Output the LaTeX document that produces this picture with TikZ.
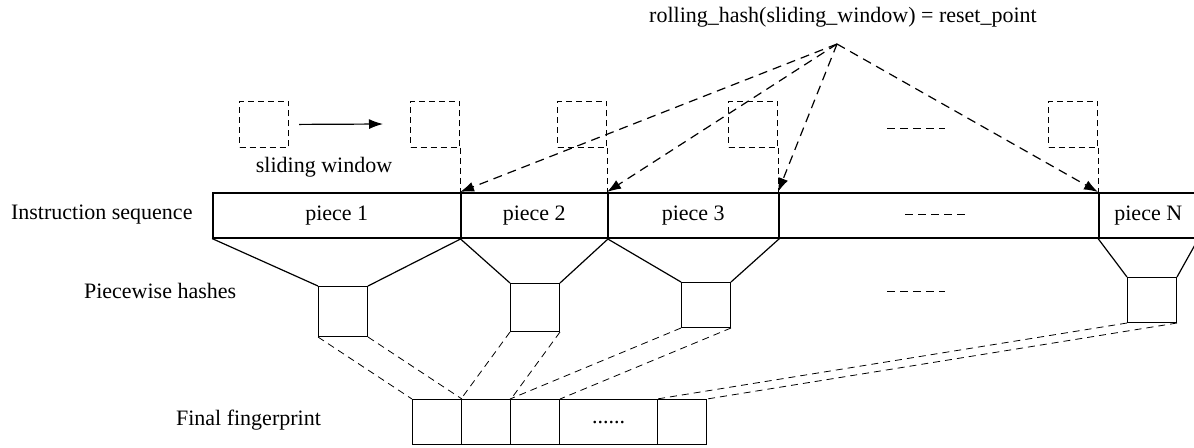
\documentclass[tikz,border=0pt]{standalone}
\usepackage{fontspec}
\setmainfont{Liberation Serif}
\usetikzlibrary{arrows.meta}
\newcommand{\cellfill}{......}

\begin{document}
\begin{tikzpicture}[x=0.5pt, y=-0.5pt, >={Latex[length=7pt,width=5pt]},
	font=\fontsize{11}{13}\selectfont]
\useasboundingbox (0,0) rectangle (1194,447);

% Row labels
\node[anchor=west] (Label-seq) at (4,215) {Instruction sequence};
\node[anchor=west] (Label-hash) at (77,291) {Piecewise hashes};
\node[anchor=west] (Label-final) at (169,420) {Final fingerprint};
\node (Rolling) at (843,17) {rolling\_hash(sliding\_window) = reset\_point};
\node (Label-window) at (324,167) {sliding window};

% Sliding windows
\foreach \x/\n in {289/1, 460/2, 607/3, 778/4, 1098/5}
{
	\node[draw, dash pattern=on 3pt off 2pt, minimum width=24.5pt,
		minimum height=23pt, inner sep=0pt, anchor=north east]
		(Win-\n) at (\x,101) {};
}
\coordinate (Slide-end) at (383,124);
\draw[->, line width=0.6pt] ([xshift=5pt]Win-1.east) -- (Slide-end);

% Instruction sequence
\foreach \l/\r/\n/\t in {212/460/1/piece 1, 460/607/2/piece 2, 607/778/3/piece 3,
	778/1098/dots/{}, 1098/1197/N/piece N}
{
	\node[draw, line width=0.75pt, minimum width={(\r-\l)*0.5pt},
		minimum height=22.5pt, inner sep=0pt, anchor=north west]
		(Piece-\n) at (\l,192) {\t};
}
\draw[dash pattern=on 4pt off 2.5pt] (905,214) -- (965,214);

% Piecewise hashes
\foreach \x/\y/\h/\n in {318/286/50/1, 510/283/48/2, 681/282/45/3, 1127/277/45/N}
{
	\node[draw, line width=0.5pt, minimum width=24.5pt,
		minimum height={\h*0.5pt}, inner sep=0pt, anchor=north west]
		(Hash-\n) at (\x,\y) {};
}
\draw[dash pattern=on 4pt off 2.5pt] (887,291) -- (945,291);
\draw[dash pattern=on 4pt off 2.5pt] (887,128) -- (945,128);

% Final fingerprint
\foreach \l/\r/\n/\t in {412/461/1/{}, 461/510/2/{}, 510/559/3/{},
	559/657/dots/\cellfill, 657/706/N/{}}
{
	\node[draw, line width=0.5pt, minimum width={(\r-\l)*0.5pt},
		minimum height=22.5pt, inner sep=0pt, anchor=north west]
		(Cell-\n) at (\l,399) {\t};
}

% Connect pieces to hashes
\foreach \n in {1,2,3,N}
{
	\draw[line width=0.6pt] (Piece-\n.south west) -- (Hash-\n.north west);
	\draw[line width=0.6pt] (Piece-\n.south east) -- (Hash-\n.north east);
}

% Connect hashes to fingerprint
\foreach \n in {1,2,3,N}
{
	\draw[dash pattern=on 3.5pt off 2.5pt] (Hash-\n.south west) -- (Cell-\n.north west);
	\draw[dash pattern=on 3.5pt off 2.5pt] (Hash-\n.south east) -- (Cell-\n.north east);
}

% Window edges down to the pieces
\foreach \w/\n in {2/2, 3/3, 4/dots, 5/N}
{
	\draw[dash pattern=on 3pt off 2pt] (Win-\w.south east) -- (Piece-\n.north west);
}

% Reset points
\coordinate (Reset) at (837,44);
\foreach \n in {2,3,dots,N}
{
	\draw[->, line width=0.6pt, dash pattern=on 4.5pt off 3pt] (Reset) -- (Piece-\n.north west);
}
\end{tikzpicture}
\end{document}
